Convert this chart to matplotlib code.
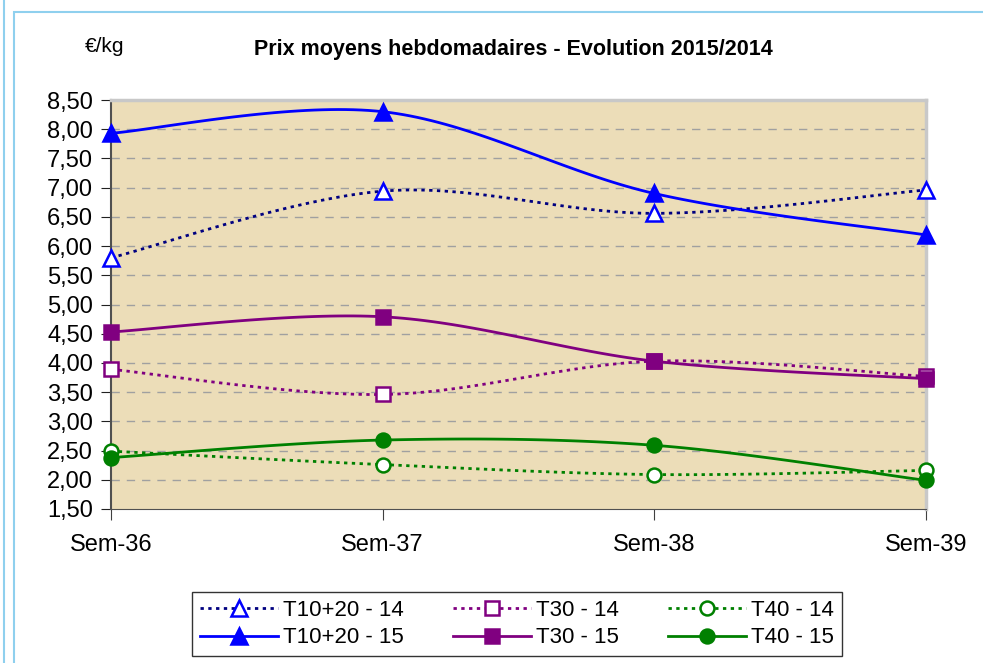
import numpy as np
import matplotlib.pyplot as plt
from matplotlib.patches import Rectangle
from matplotlib.lines import Line2D

plt.rcParams['font.family'] = ['Liberation Sans', 'DejaVu Sans']

weeks = ["Sem-36", "Sem-37", "Sem-38", "Sem-39"]
t1020_14 = [5.80, 6.94, 6.56, 6.96]
t1020_15 = [7.93, 8.30, 6.90, 6.19]
t30_14 = [3.89, 3.46, 4.03, 3.77]
t30_15 = [4.53, 4.79, 4.03, 3.73]
t40_14 = [2.49, 2.26, 2.09, 2.16]
t40_15 = [2.38, 2.68, 2.59, 1.99]

yticks = np.arange(1.5, 8.51, 0.5)


def smooth(y, n=40):
    # excel style smoothing (catmull-rom as bezier)
    x = np.arange(len(y), dtype=float)
    pts = np.column_stack([x, y])
    out = []
    for i in range(len(pts) - 1):
        p0 = pts[i - 1] if i > 0 else pts[i]
        p1 = pts[i]
        p2 = pts[i + 1]
        p3 = pts[i + 2] if i + 2 < len(pts) else pts[i + 1]
        c1 = p1 + (p2 - p0) / 6
        c2 = p2 - (p3 - p1) / 6
        t = np.linspace(0, 1, n)[:, None]
        seg = ((1 - t) ** 3) * p1 + 3 * ((1 - t) ** 2) * t * c1 + 3 * (1 - t) * t ** 2 * c2 + t ** 3 * p2
        out.append(seg if i == 0 else seg[1:])
    s = np.vstack(out)
    return s[:, 0], s[:, 1]


fig = plt.figure(figsize=(9.83, 6.63), dpi=100)
ax = fig.add_axes([111 / 983, 1 - 509 / 663, (926 - 111) / 983, (509 - 100) / 663])
ax.set_facecolor('#ECDDB8')

# light blue frame
fig.patches.append(Rectangle((4 / 983, -0.1), 1.2, 1.3, transform=fig.transFigure,
                             fill=False, edgecolor='#8FD0EE', lw=1.5))
fig.patches.append(Rectangle((14 / 983, -0.1), 1.2, 1.1 - 12 / 663, transform=fig.transFigure,
                             fill=False, edgecolor='#8FD0EE', lw=1.5))

series = [
    ("T10+20 - 14", t1020_14, '#000080', ':', '^', 'white', 'blue'),
    ("T30 - 14", t30_14, '#800080', ':', 's', 'white', '#800080'),
    ("T40 - 14", t40_14, '#008000', ':', 'o', 'white', '#008000'),
    ("T10+20 - 15", t1020_15, 'blue', '-', '^', 'blue', 'blue'),
    ("T30 - 15", t30_15, '#800080', '-', 's', '#800080', '#800080'),
    ("T40 - 15", t40_15, '#008000', '-', 'o', '#008000', '#008000'),
]

handles = {}
for name, vals, col, ls, mk, mfc, mec in series:
    sx, sy = smooth(vals)
    dash = (0, (1.2, 1.6)) if ls == ':' else '-'
    ms = 11 if mk == '^' else 10
    ax.plot(sx, sy, color=col, linestyle=dash, lw=2, clip_on=False, zorder=3)
    ax.plot(range(len(vals)), vals, linestyle='none', marker=mk, ms=ms,
            mfc=mfc, mec=mec, mew=1.8, clip_on=False, zorder=4)
    handles[name] = Line2D([], [], color=col, linestyle=dash, lw=2, marker=mk, ms=ms,
                           mfc=mfc, mec=mec, mew=1.8)

ax.set_xlim(0, 3)
ax.set_ylim(1.5, 8.5)
ax.set_xticks(range(len(weeks)))
ax.set_xticklabels(weeks, fontsize=17)
ax.set_yticks(yticks)
ax.set_yticklabels([f"{v:.2f}".replace('.', ',') for v in yticks], fontsize=17)
ax.tick_params(axis='x', length=8, pad=10, color='#404040')
ax.tick_params(axis='y', length=7, pad=6, color='#202020')
for v in yticks[1:-1]:
    ax.axhline(v, color='#A0A0A0', lw=1, linestyle=(0, (6, 5)), zorder=1)

ax.spines['left'].set_color('#505050')
ax.spines['bottom'].set_color('#505050')
ax.spines['top'].set_color('#C8C8C8')
ax.spines['right'].set_color('#C8C8C8')
ax.spines['top'].set_linewidth(2.5)
ax.spines['right'].set_linewidth(2.5)
ax.spines['left'].set_linewidth(1.5)

fig.text(513 / 983, 1 - 49 / 663, "Prix moyens hebdomadaires - Evolution 2015/2014",
         ha='center', va='center', fontsize=15.5, fontweight='bold')
fig.text(85 / 983, 1 - 47 / 663, "€/kg", ha='left', va='center', fontsize=15)

order = ["T10+20 - 14", "T10+20 - 15", "T30 - 14", "T30 - 15", "T40 - 14", "T40 - 15"]
leg = fig.legend([handles[k] for k in order], order, ncol=3, loc='center',
                 bbox_to_anchor=(517 / 983, 39 / 663), fontsize=16, frameon=True,
                 fancybox=False, edgecolor='black', handlelength=3.5, columnspacing=2.2,
                 labelspacing=0.3, borderpad=0.35, handletextpad=0.25)
leg.get_frame().set_linewidth(1)

fig.savefig("out.png", dpi=100)
